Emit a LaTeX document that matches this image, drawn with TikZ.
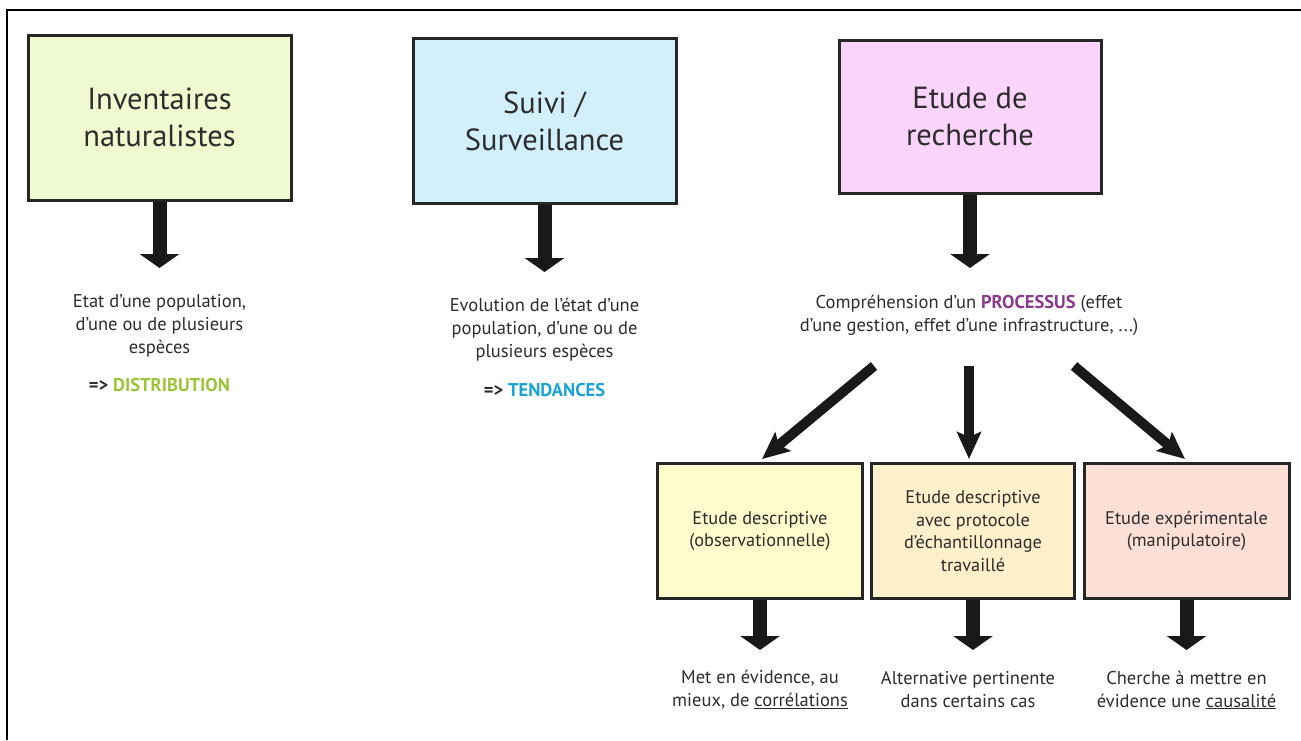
\documentclass[tikz,border=0pt]{standalone}
\usepackage{fontspec}
\setmainfont{PT Sans}
\usetikzlibrary{arrows.meta}
\definecolor{cInv}{RGB}{240,250,208}
\definecolor{cSuivi}{RGB}{210,240,252}
\definecolor{cRech}{RGB}{250,212,250}
\definecolor{cObs}{RGB}{255,251,204}
\definecolor{cProt}{RGB}{255,240,204}
\definecolor{cExp}{RGB}{252,224,214}
\definecolor{cDist}{RGB}{156,196,56}
\definecolor{cTend}{RGB}{26,163,214}
\definecolor{cProc}{RGB}{140,58,140}
\definecolor{cTxt}{RGB}{45,45,45}
\tikzset{
  box/.style={draw=black!85, line width=3pt, inner sep=0pt, align=center, text=cTxt},
  titlebox/.style={box, font=\fontsize{30.5}{37}\selectfont, minimum width=263pt, minimum height=165pt},
  subbox/.style={box, font=\fontsize{18.3}{22.5}\selectfont, minimum width=203pt, minimum height=135pt},
  small/.style={font=\fontsize{18.5}{23}\selectfont, text=cTxt, align=center, inner sep=0pt},
  bigarrow/.style={draw=black!90, line width=14pt, -{Triangle[width=39pt,length=14pt]}},
  diagarrow/.style={draw=black!90, line width=10pt, -{Stealth[width=24pt,length=27pt,inset=5pt]}},
}
\begin{document}
\begin{tikzpicture}[x=1pt,y=-1pt]
\useasboundingbox (0,0) rectangle (1301,740);
\fill[white] (0,0) rectangle (1301,740);
\draw[line width=2.5pt] (7,740) -- (7,10) -- (1301,10);

% top boxes
\node[titlebox, fill=cInv] (b1) at (159.5,117.5) {Inventaires\\naturalistes};
\node[titlebox, fill=cSuivi] (b2) at (544.5,121) {Suivi /\\Surveillance};
\node[titlebox, fill=cRech, minimum width=262pt, minimum height=153pt] (b3) at (970,116.5) {Etude de\\recherche};

% arrow ends
\coordinate (a1) at (159.5,268);
\coordinate (a2) at (544.5,272);
\coordinate (a3) at (970,268);

\draw[bigarrow] (b1.south) -- (a1);
\draw[bigarrow] (b2.south) -- (a2);
\draw[bigarrow] (b3.south) -- (a3);

% texts under top boxes
\node[small] (t1) at (159.5,326) {Etat d’une population,\\d’une ou de plusieurs\\espèces};
\node[small] (d1) at (159.5,385) {\textbf{=> \textcolor{cDist}{DISTRIBUTION}}};
\node[small] (t2) at (544.5,330) {Evolution de l’état d’une\\population, d’une ou de\\plusieurs espèces};
\node[small] (d2) at (544.5,390) {\textbf{=> \textcolor{cTend}{TENDANCES}}};
\node[small] (t3) at (969,315) {Compréhension d’un \textbf{\textcolor{cProc}{PROCESSUS}} (effet\\d’une gestion, effet d’une infrastructure, ...)};

% lower boxes
\node[subbox, fill=cObs, minimum width=205pt] (b4) at (760,531) {Etude descriptive\\(observationnelle)};
\node[subbox, fill=cProt] (b5) at (973,531) {Etude descriptive\\avec protocole\\d’échantillonnage\\travaillé};
\node[subbox, fill=cExp, minimum width=205pt] (b6) at (1186.5,531) {Etude expérimentale\\(manipulatoire)};

% diagonal arrows
\coordinate (s4) at (874,366);
\coordinate (s5) at (969,366);
\coordinate (s6) at (1074,366);
\coordinate (e4) at (762,459);
\coordinate (e5) at (969,459);
\coordinate (e6) at (1185,459);
\draw[diagarrow] (s4) -- (e4);
\draw[diagarrow] (s5) -- (e5);
\draw[diagarrow] (s6) -- (e6);

% lower arrows
\coordinate (a4) at (760,650);
\coordinate (a5) at (973,650);
\coordinate (a6) at (1186.5,650);
\draw[bigarrow] (b4.south) -- (a4);
\draw[bigarrow] (b5.south) -- (a5);
\draw[bigarrow] (b6.south) -- (a6);

% bottom texts
\node[small] (t4) at (760,690) {Met en évidence, au\\mieux, de \underline{corrélations}};
\node[small] (t5) at (968,690) {Alternative pertinente\\dans certains cas};
\node[small] (t6) at (1186.5,690) {Cherche à mettre en\\évidence une \underline{causalité}};
\end{tikzpicture}
\end{document}
